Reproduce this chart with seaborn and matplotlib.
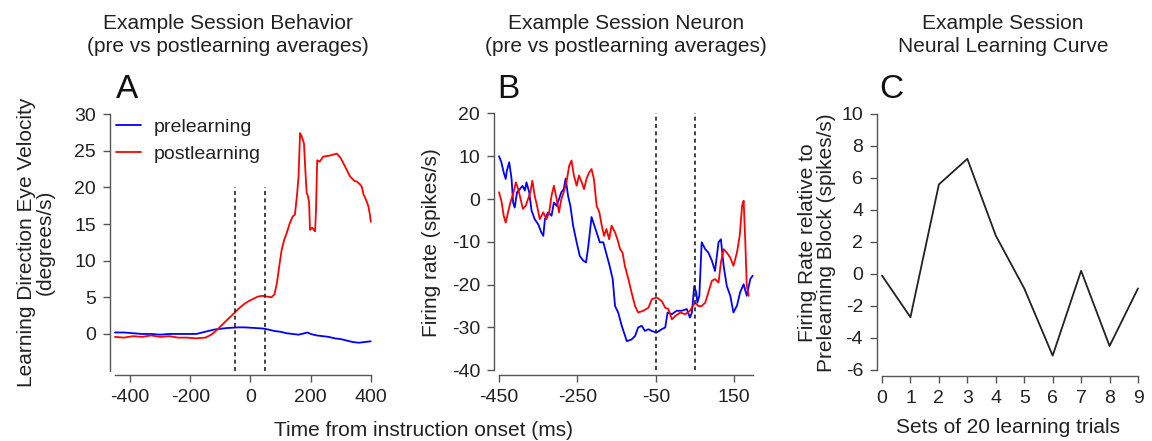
import numpy as np
import pandas as pd
import matplotlib
matplotlib.use("Agg")
import matplotlib.pyplot as plt
import seaborn as sns

sns.set_theme(style="ticks")
plt.rcParams['font.family'] = ['Liberation Sans', 'DejaVu Sans']
plt.rcParams['axes.unicode_minus'] = False

# ---------------- data ----------------
# Panel A: behaviour (eye velocity, deg/s)
a_pre_t = [-450, -420, -390, -360, -330, -300, -270, -240, -210, -180, -160, -140, -120, -100,
           -80, -60, -40, -20, 0, 20, 40, 60, 80, 100, 120, 140, 160, 180, 190, 200, 220, 240,
           260, 280, 300, 320, 340, 360, 380, 400]
a_pre_v = [0.2, 0.2, 0.1, 0.0, 0.0, -0.1, 0.0, 0.0, 0.0, 0.0, 0.2, 0.4, 0.6, 0.7,
           0.8, 0.85, 0.9, 0.9, 0.85, 0.8, 0.75, 0.6, 0.4, 0.3, 0.1, 0.0, -0.1, 0.1, 0.2, 0.0, -0.2, -0.3,
           -0.4, -0.6, -0.7, -0.9, -1.1, -1.2, -1.1, -1.0]
a_post_t = [-450, -420, -390, -360, -330, -300, -270, -240, -210, -180, -150, -130, -115, -100,
            -85, -70, -50, -35, -20, -5, 10, 25, 40, 55, 70, 80, 88, 95, 104, 112, 120, 130,
            140, 148, 155, 160, 165, 170, 178, 183, 187, 190, 195, 198, 205, 215, 218, 222,
            230, 242, 260, 287, 300, 315, 331, 345, 353, 362, 370, 376, 381, 387, 392, 397, 400]
a_post_v = [-0.4, -0.5, -0.3, -0.4, -0.2, -0.4, -0.3, -0.5, -0.5, -0.6, -0.5, -0.1, 0.4, 1.0,
            1.6, 2.2, 3.0, 3.6, 4.1, 4.5, 4.8, 5.1, 5.2, 5.1, 5.0, 5.4, 6.9, 9.0, 11.5, 12.8, 13.7, 15.0,
            16.0, 16.3, 19.0, 21.5, 27.4, 27.0, 26.0, 22.0, 19.2, 19.0, 18.0, 14.2, 14.5, 14.0, 17.0, 23.7,
            23.5, 24.2, 24.3, 24.6, 24.0, 22.8, 21.5, 20.9, 20.8, 20.5, 20.1, 19.0, 18.6, 18.0, 17.4, 16.3, 15.3]

# Panel B: neuron firing rate (spikes/s)
b_pre_t = [-450, -444, -438, -433, -430, -424, -418, -414, -410, -404, -397, -390, -384, -380,
           -373, -367, -359, -350, -342, -337, -333, -325, -316, -310, -303, -297, -291, -285,
           -280, -274, -268, -261, -252, -244, -235, -228, -222, -214, -201, -193, -184, -177,
           -169, -160, -154, -146, -137, -124, -112, -103, -95, -86, -78, -69, -61, -48, -35,
           -26, -20, -9, 3, 16, 29, 37, 42, 48, 53, 56, 61, 67, 76, 84, 93, 101, 110, 116,
           123, 131, 140, 148, 157, 165, 174, 182, 191, 197]
b_pre_v = [10.0, 8.6, 6.2, 4.7, 6.6, 8.6, 4.7, -0.8, -2.0, 1.6, 2.3, 3.1, 2.0, 3.9,
           1.6, -2.7, -4.7, -5.9, -7.8, -8.6, -4.7, -3.1, -3.9, -0.8, -1.6, 0.0, 1.6, 2.3,
           4.8, 0.8, -1.6, -6.2, -10.1, -13.3, -14.4, -14.8, -10.9, -4.2, -7.8, -10.1, -10.1, -12.5,
           -15.2, -18.7, -25.0, -26.5, -29.6, -33.2, -32.8, -32.0, -30.0, -29.6, -30.8, -30.4, -30.8, -31.2, -30.4,
           -30.0, -26.5, -26.9, -26.1, -26.1, -25.7, -27.7, -26.5, -20.3, -21.8, -24.2, -22.6, -10.1, -11.7, -12.5,
           -14.4, -16.8, -10.1, -9.4, -15.6, -20.3, -22.6, -26.5, -24.9, -21.8, -19.9, -22.6, -18.7, -17.9]
b_post_t = [-450, -444, -438, -433, -427, -421, -414, -407, -401, -395, -389, -382, -376, -370,
            -365, -359, -353, -346, -337, -329, -322, -316, -310, -303, -297, -291, -285, -278,
            -271, -265, -259, -252, -246, -239, -233, -227, -220, -214, -208, -201, -194, -188,
            -182, -176, -169, -163, -154, -148, -141, -135, -129, -120, -112, -103, -95, -82, -69,
            -60, -48, -35, -26, -18, -9, 0, 12, 25, 37, 50, 59, 67, 76, 84, 93, 101, 110, 116,
            123, 131, 140, 148, 157, 164, 170, 174, 178, 182, 187]
b_post_v = [1.6, -0.4, -3.9, -5.5, -3.1, -0.8, 1.2, 3.9, 2.3, 0.0, -2.3, -1.6, 0.0, 1.6,
            4.3, 0.8, -1.6, -4.7, -3.1, -4.7, -3.1, 0.8, 3.1, 0.0, -3.1, 0.0, 1.6, 3.9,
            7.8, 9.0, 5.5, 3.1, 5.5, 3.9, 2.3, 4.7, 6.2, 7.0, 4.7, -1.6, -3.1, -6.2,
            -8.6, -7.0, -9.4, -6.2, -7.8, -9.4, -11.7, -12.5, -15.6, -18.7, -21.8, -25.0, -26.5, -26.1, -25.4,
            -23.4, -23.0, -23.8, -25.4, -25.7, -28.1, -27.3, -26.5, -26.9, -26.1, -24.2, -25.0, -25.0, -24.2, -21.8,
            -19.1, -18.7, -19.5, -14.8, -11.7, -12.5, -13.7, -15.6, -12.5, -8.6, -1.6, -0.4, -9.4, -20.3, -22.6]

# Panel C: neural learning curve
c_sets = [0, 1, 2, 3, 4, 5, 6, 7, 8, 9]
c_rate = [-0.1, -2.7, 5.6, 7.2, 2.4, -0.9, -5.1, 0.2, -4.5, -0.9]

event_times = [-50, 50]
series_names = ["prelearning", "postlearning"]

df_a = pd.concat([
    pd.DataFrame({"t": a_pre_t, "v": a_pre_v, "cond": series_names[0]}),
    pd.DataFrame({"t": a_post_t, "v": a_post_v, "cond": series_names[1]}),
])
df_b = pd.concat([
    pd.DataFrame({"t": b_pre_t, "v": b_pre_v, "cond": series_names[0]}),
    pd.DataFrame({"t": b_post_t, "v": b_post_v, "cond": series_names[1]}),
])
df_c = pd.DataFrame({"set": c_sets, "rate": c_rate})

palette = {"prelearning": "#0000ff", "postlearning": "#ff0000"}

# ---------------- figure ----------------
W, H = 1152, 441
fig = plt.figure(figsize=(W / 100, H / 100), dpi=100)

def px_axes(left, top, right, bottom):
    return fig.add_axes([left / W, 1 - bottom / H, (right - left) / W, (bottom - top) / H])

axA = px_axes(110, 110.4, 372, 375)
axB = px_axes(494, 110, 755, 375)
axC = px_axes(877, 110, 1140, 376)

spine_col = "#555555"
text_col = "#222222"
tick_fs = 14
label_fs = 15

def style(ax, xb, yb):
    for s in ["top", "right"]:
        ax.spines[s].set_visible(False)
    for s in ["left", "bottom"]:
        ax.spines[s].set_color(spine_col)
        ax.spines[s].set_linewidth(1.0)
    ax.spines["bottom"].set_bounds(*xb)
    ax.spines["left"].set_bounds(*yb)
    ax.tick_params(axis="both", direction="out", length=5, width=1.0, color=spine_col,
                   labelsize=tick_fs, labelcolor=text_col, pad=5)
    ax.set_facecolor("none")
    ax.grid(False)

# Panel A
sns.lineplot(data=df_a, x="t", y="v", hue="cond", palette=palette, estimator=None,
             sort=False, linewidth=1.3, ax=axA, hue_order=series_names)
axA.vlines(event_times, -5, 20, colors="#222222", linestyles=(0, (2.4, 2.0)), linewidth=1.2)
axA.set_xlim(-466.4, 404)
axA.set_ylim(-5.6, 30.5)
axA.set_xticks([-400, -200, 0, 200, 400])
axA.set_yticks([0, 5, 10, 15, 20, 25, 30])
style(axA, (-450, 400), (-5, 30))
axA.set_xlabel("")
axA.set_ylabel("Learning Direction Eye Velocity\n(degrees/s)", fontsize=label_fs,
               color=text_col, linespacing=1.0, labelpad=14)
leg = axA.legend(loc="upper left", bbox_to_anchor=(0.023, 0.97), frameon=False,
                 fontsize=14, handlelength=1.3, handletextpad=0.62, labelspacing=0.5,
                 borderpad=0, borderaxespad=0)
for t in leg.get_texts():
    t.set_color(text_col)

# Panel B
sns.lineplot(data=df_b, x="t", y="v", hue="cond", palette=palette, estimator=None,
             sort=False, linewidth=1.3, ax=axB, hue_order=series_names, legend=False)
axB.vlines(event_times, -40, 20, colors="#222222", linestyles=(0, (2.4, 2.0)), linewidth=1.2)
axB.set_xlim(-462.8, 203)
axB.set_ylim(-41.1, 20.8)
axB.set_xticks([-450, -250, -50, 150])
axB.set_yticks([-40, -30, -20, -10, 0, 10, 20])
style(axB, (-450, 198), (-40, 20))
axB.set_xlabel("")
axB.set_ylabel("Firing rate (spikes/s)", fontsize=label_fs, color=text_col, labelpad=8)

# Panel C
sns.lineplot(data=df_c, x="set", y="rate", color="#222222", linewidth=1.3, ax=axC)
axC.set_xlim(-0.176, 9.07)
axC.set_ylim(-6.375, 10.25)
axC.set_xticks(c_sets)
axC.set_yticks([-6, -4, -2, 0, 2, 4, 6, 8, 10])
style(axC, (0, 9), (-6, 10))
axC.set_xlabel("Sets of 20 learning trials", fontsize=label_fs, color=text_col, labelpad=8)
axC.set_ylabel("Firing Rate relative to\nPrelearning Block (spikes/s)", fontsize=label_fs,
               color=text_col, linespacing=1.0, labelpad=4)

# shared x label for A and B
fig.text(424 / W, 1 - 430 / H, "Time from instruction onset (ms)", fontsize=label_fs,
         color=text_col, ha="center", va="center")

# titles
titles = [("Example Session Behavior\n(pre vs postlearning averages)", 228),
          ("Example Session Neuron\n(pre vs postlearning averages)", 626),
          ("Example Session\nNeural Learning Curve", 1003)]
for txt, xc in titles:
    fig.text(xc / W, 1 - 35 / H, txt, fontsize=15, color=text_col, ha="center", va="center",
             linespacing=1.25)

# panel letters
for letter, xc in [("A", 127), ("B", 508), ("C", 891)]:
    fig.text(xc / W, 1 - 90 / H, letter, fontsize=24, color="#111111", ha="center", va="center")

fig.savefig("out.png", dpi=100)
